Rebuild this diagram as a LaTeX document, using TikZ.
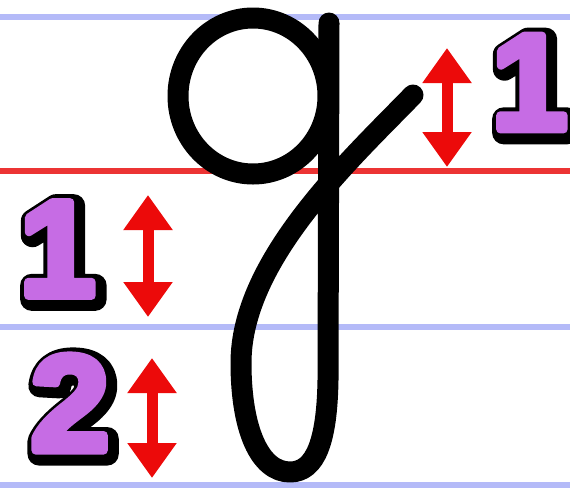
\documentclass[tikz,border=0pt]{standalone}
\usepackage{fontspec}
\setmainfont{Liberation Sans}
\newfontfamily\blackonefont[FakeBold=17]{Liberation Sans Bold}
\newfontfamily\purpleonefont[FakeBold=6]{Liberation Sans Bold}
\newfontfamily\blacktwofont[FakeBold=17,FakeStretch=1.04]{Liberation Sans Bold}
\newfontfamily\purpletwofont[FakeBold=6,FakeStretch=1.04]{Liberation Sans Bold}
\usetikzlibrary{arrows.meta}
\definecolor{guideblue}{RGB}{180,186,248}
\definecolor{guidered}{RGB}{236,52,52}
\definecolor{arrred}{RGB}{236,10,10}
\definecolor{numpurple}{RGB}{198,108,228}
\tikzset{
  guide/.style={line width=6pt},
  letter/.style={line width=21pt, line cap=round, line join=round, black},
  dblarrow/.style={arrred, line width=11pt,
    {Triangle[length=35pt,width=47pt]}-{Triangle[length=35pt,width=47pt]}},
  numbase/.style={inner sep=0pt, line join=round, line cap=round},
  shadowone/.style={numbase, text=black, font=\fontsize{136}{136}\blackonefont},
  faceone/.style={numbase, text=numpurple, font=\fontsize{136}{136}\purpleonefont},
  shadowtwo/.style={numbase, text=black, font=\fontsize{136}{136}\blacktwofont},
  facetwo/.style={numbase, text=numpurple, font=\fontsize{136}{136}\purpletwofont}
}
\begin{document}
\begin{tikzpicture}[x=1pt,y=-1pt]
\fill[white] (0,0) rectangle (570,488);
\useasboundingbox (0,0) rectangle (570,488);
% guidelines
\draw[guide, guideblue] (0,17) -- (570,17);
\draw[guide, guidered] (0,171) -- (570,171);
\draw[guide, guideblue] (0,327) -- (570,327);
\draw[guide, guideblue] (0,485) -- (570,485);
% letter g
\draw[letter] (253,96) ellipse [x radius=75pt, y radius=78pt];
\draw[letter] (413,95) .. controls (350,160) and (241,260) .. (241,363)
  .. controls (241,430) and (260,472) .. (290,472)
  .. controls (316,472) and (327,440) .. (328,380) -- (329,23);
% arrows
\coordinate (a1t) at (447,48);
\coordinate (a1b) at (447,167);
\coordinate (a2t) at (148,195);
\coordinate (a2b) at (148,317);
\coordinate (a3t) at (152,358);
\coordinate (a3b) at (152,478);
\draw[dblarrow] (a1t) -- (a1b);
\draw[dblarrow] (a2t) -- (a2b);
\draw[dblarrow] (a3t) -- (a3b);
% numbers
\node[shadowone] (n1rs) at (533,86) {1};
\node[faceone] (n1r) at (529.5,82.5) {1};
\node[shadowone] (n1ls) at (61,252.5) {1};
\node[faceone] (n1l) at (57.5,249) {1};
\node[shadowtwo] (n2s) at (73.5,406.5) {2};
\node[facetwo] (n2) at (70,403) {2};
\end{tikzpicture}
\end{document}
